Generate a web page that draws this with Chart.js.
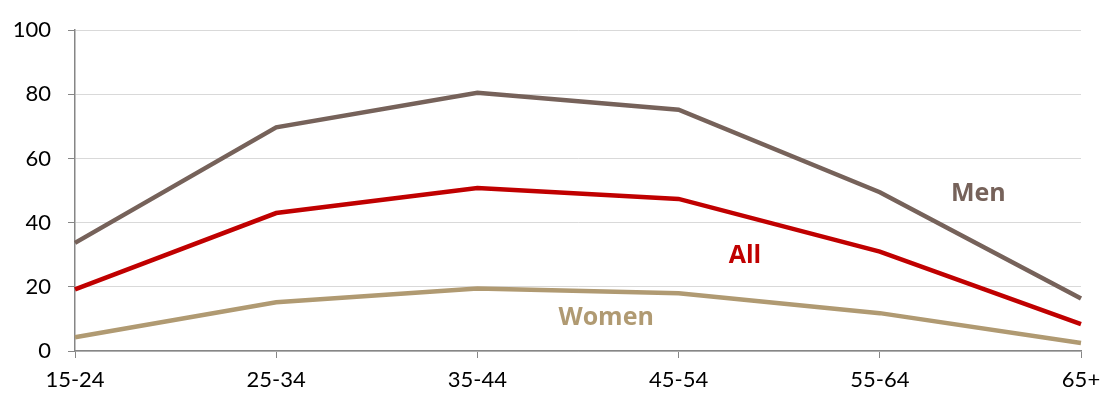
<!DOCTYPE html>
<html>
<head>
<meta charset="utf-8">
<script src="https://cdn.jsdelivr.net/npm/chart.js@4/dist/chart.umd.min.js"></script>
<style>
  html, body { margin: 0; padding: 0; background: #fff; }
  #wrap { width: 1101px; height: 397px; }
</style>
</head>
<body>
<div id="wrap"><canvas id="chart" width="1101" height="397"></canvas></div>
<script>
// data
const ageGroups = ['15-24', '25-34', '35-44', '45-54', '55-64', '65+'];
const menValues = [33.7, 69.7, 80.5, 75.2, 49.5, 16.4];
const allValues = [19.2, 43.0, 50.8, 47.4, 31.0, 8.4];
const womenValues = [4.3, 15.2, 19.5, 18.0, 11.8, 2.5];
const yTicks = [0, 20, 40, 60, 80, 100];

// series names written on the plot (x as category index, y as value)
const seriesLabels = [
  { text: 'Men', x: 4.49, y: 48.9, color: '#76625A' },
  { text: 'All', x: 3.33, y: 29.7, color: '#C00000' },
  { text: 'Women', x: 2.64, y: 10.2, color: '#B09A72' }
];

const FONT = 'Lato, "Open Sans", sans-serif';

const labelPlugin = {
  id: 'seriesLabels',
  afterDatasetsDraw(chart) {
    const ctx = chart.ctx;
    const xs = chart.scales.x, ys = chart.scales.y;
    ctx.save();
    ctx.font = 'bold 25px "Open Sans", sans-serif';
    ctx.textAlign = 'center';
    ctx.textBaseline = 'middle';
    seriesLabels.forEach(l => {
      ctx.fillStyle = l.color;
      ctx.fillText(l.text, xs.getPixelForValue(l.x), ys.getPixelForValue(l.y));
    });
    ctx.restore();
  }
};

function line(data, color) {
  return {
    data: data,
    borderColor: color,
    borderWidth: 4.5,
    pointRadius: 0,
    fill: false,
    tension: 0
  };
}

new Chart(document.getElementById('chart'), {
  type: 'line',
  data: {
    labels: ageGroups,
    datasets: [
      line(menValues, '#76625A'),
      line(allValues, '#C00000'),
      line(womenValues, '#B09A72')
    ]
  },
  options: {
    responsive: false,
    animation: false,
    layout: { padding: { top: 27, right: 20, left: 0, bottom: 0 } },
    plugins: { legend: { display: false }, tooltip: { enabled: false } },
    scales: {
      x: {
        offset: false,
        grid: { drawOnChartArea: false, tickLength: 7, tickColor: '#868686' },
        border: { color: '#868686', width: 1.5 },
        ticks: { color: '#000', font: { family: FONT, size: 22 }, padding: 9, maxRotation: 0 },
        afterFit(s) { s.height = 46; s.paddingRight = 0; }
      },
      y: {
        min: 0,
        max: 100,
        afterBuildTicks(s) { s.ticks = yTicks.map(v => ({ value: v })); },
        grid: { color: '#D9D9D9', tickLength: 7, tickColor: '#868686' },
        border: { color: '#868686', width: 1.5 },
        ticks: { color: '#000', font: { family: FONT, size: 22 }, padding: 17 },
        afterFit(s) { s.width = 75; }
      }
    }
  },
  plugins: [labelPlugin]
});
</script>
</body>
</html>
